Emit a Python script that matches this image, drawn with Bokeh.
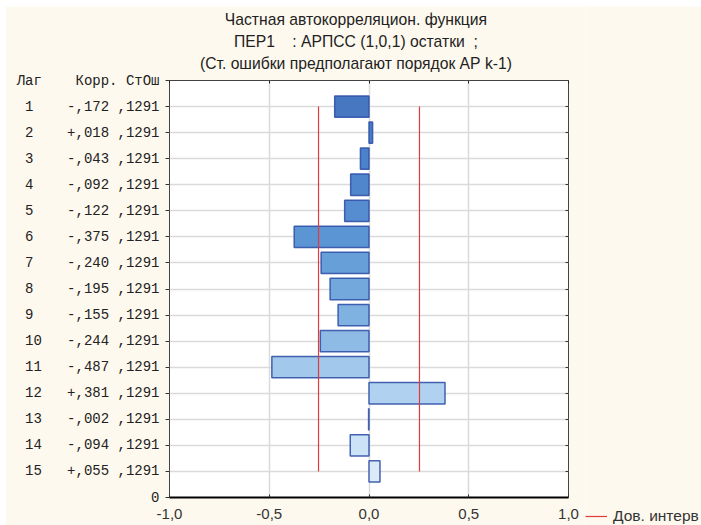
from bokeh.plotting import figure
from bokeh.layouts import row
from bokeh.models import (Range1d, FixedTicker, LinearAxis, Title, Legend, LegendItem)
from bokeh.embed import file_html
from bokeh.resources import INLINE

# ---- data ----
lags = [1, 2, 3, 4, 5, 6, 7, 8, 9, 10, 11, 12, 13, 14, 15]
corr = [-0.172, 0.018, -0.043, -0.092, -0.122, -0.375, -0.240, -0.195,
        -0.155, -0.244, -0.487, 0.381, -0.002, -0.094, 0.055]
stderr = [0.1291, 0.1291, 0.1291, 0.1291, 0.1291, 0.1291, 0.1291, 0.1291,
          0.1291, 0.1291, 0.1291, 0.1291, 0.1291, 0.1291, 0.1291]
x_ticks = [-1.0, -0.5, 0.0, 0.5, 1.0]
x_tick_labels = ["-1,0", "-0,5", "0,0", "0,5", "1,0"]
title_lines = ["Частная автокорреляцион. функция",
               "ПЕР1    : АРПСС (1,0,1) остатки  ;",
               "(Ст. ошибки предполагают порядок АР k-1)"]
header = "Лаг    Корр. СтОш"
legend_label = "Дов. интерв"

# ---- styles ----
bar_colors = ["#4677C0", "#497DC5", "#4C82C9", "#5087CC", "#558DD0",
              "#5C95D4", "#679FD9", "#73A8DD", "#80B2E1", "#8DBBE5",
              "#A2C8EB", "#B0D2F0", "#BFDBF3", "#CCE2F6", "#DCEAF8"]
BG = "#FEF9EE"
RED = "#E23B3B"
NB = "\u00a0"


def fmt_corr(c):
    s = "+" if c >= 0 else "-"
    return s + ("%.3f" % abs(c))[1:].replace(".", ",")


def fmt_se(s):
    return ("%.4f" % s)[1:].replace(".", ",")


H = 519
p = figure(width=580, height=H, output_backend="svg", toolbar_location=None,
           x_range=Range1d(-1, 1), y_range=Range1d(16, 0),
           min_border_left=164, min_border_right=17,
           min_border_top=74, min_border_bottom=28,
           x_axis_location=None, y_axis_location=None)
p.frame_align = False
p.background_fill_color = "white"
p.border_fill_color = BG
p.outline_line_color = "#444444"
p.outline_line_width = 1

y_ticks = [0] + lags + [16]
y_over = {l: ("%-2d" % l).replace(" ", NB) + NB * 3 + fmt_corr(c) + NB + fmt_se(s)
          for l, c, s in zip(lags, corr, stderr)}
y_over[0] = header.replace(" ", NB)
y_over[16] = "0"

# axes
left = LinearAxis(ticker=FixedTicker(ticks=y_ticks), major_label_overrides=y_over)
left.axis_line_color = None
left.major_tick_in = 0
left.major_tick_out = 4
left.major_tick_line_color = "#333333"
left.minor_tick_line_color = None
left.major_label_standoff = 6
left.major_label_text_font = "Liberation Mono"
left.major_label_text_font_size = "14px"
left.major_label_text_color = "#222222"
p.add_layout(left, "left")

right = LinearAxis(ticker=FixedTicker(ticks=lags))
right.axis_line_color = None
right.major_tick_in = 3
right.major_tick_out = 0
right.major_tick_line_color = "#333333"
right.minor_tick_line_color = None
right.major_label_standoff = 0
right.major_label_text_font_size = "0px"
right.major_label_text_color = None
p.add_layout(right, "right")

bottom = LinearAxis(ticker=FixedTicker(ticks=x_ticks),
                    major_label_overrides=dict(zip(x_ticks, x_tick_labels)))
bottom.axis_line_color = "black"
bottom.axis_line_width = 2
bottom.major_tick_in = 3
bottom.major_tick_out = 0
bottom.major_tick_line_color = "#333333"
bottom.minor_tick_line_color = None
bottom.major_label_standoff = 11
bottom.major_label_text_font = "Liberation Sans"
bottom.major_label_text_font_size = "15px"
bottom.major_label_text_color = "#333333"
p.add_layout(bottom, "below")

top = LinearAxis(ticker=FixedTicker(ticks=x_ticks))
top.axis_line_color = None
top.major_tick_in = 3
top.major_tick_out = 0
top.major_tick_line_color = "#222222"
top.minor_tick_line_color = None
top.major_label_standoff = 0
top.major_label_text_font_size = "0px"
top.major_label_text_color = None
p.add_layout(top, "above")

# thin spacer between the frame and the title block
p.add_layout(Title(text=NB, standoff=0, text_font_size="3.6px",
                   text_color=BG), "above")

# title lines (innermost first), padded so their centre sits left of the frame centre
for t in reversed(title_lines):
    p.add_layout(Title(text=t.replace("  ", NB + NB) + NB * 6, align="center",
                       vertical_align="middle", standoff=2.5,
                       text_font="Liberation Sans", text_font_size="15.7px",
                       text_font_style="normal", text_color="#222222"), "above")

# grids
p.xgrid.ticker = FixedTicker(ticks=x_ticks)
p.ygrid.ticker = FixedTicker(ticks=lags)
for g in (p.xgrid, p.ygrid):
    g.grid_line_color = "#DADADA"
    g.grid_line_width = 1.5

# bars
p.hbar(y=lags, left=0, right=corr, height=0.82, fill_color=bar_colors,
       line_color="#3152A8", line_width=1.5, line_alpha=0.9)

# confidence limits (about 1.96 standard errors)
ci = [1.96 * s for s in stderr]
ci_lo = [-v for v in ci]
p.multi_line(xs=[ci_lo, ci], ys=[lags, lags], line_color=RED, line_width=1.2)

# legend panel (same limit series; its lags lie outside this panel's range)
q = figure(width=116, height=H, output_backend="svg", toolbar_location=None,
           x_range=Range1d(0, 1), y_range=Range1d(0, 0.5), min_border=0,
           x_axis_location=None, y_axis_location=None)
q.frame_align = False
q.background_fill_color = BG
q.border_fill_color = BG
q.outline_line_color = None
q.grid.visible = False
r_leg = q.multi_line(xs=[ci_lo, ci], ys=[lags, lags], line_color=RED, line_width=1.2)
leg = Legend(items=[LegendItem(label=legend_label, renderers=[r_leg])],
             location=(0, 0), border_line_color=None, background_fill_alpha=0,
             padding=0, margin=0, glyph_width=22, glyph_height=18,
             label_height=18, label_standoff=6,
             label_text_font="Liberation Sans", label_text_font_size="15.5px",
             label_text_color="#333333")
q.add_layout(leg)

layout = row(p, q, margin=(6, 0, 0, 5))
open("out.html", "w").write(file_html(layout, INLINE))
